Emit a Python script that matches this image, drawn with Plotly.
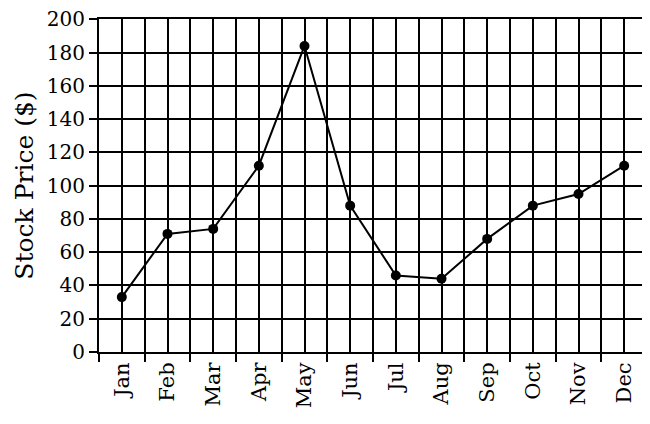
import plotly.graph_objects as go

months = ["Jan", "Feb", "Mar", "Apr", "May", "Jun",
          "Jul", "Aug", "Sep", "Oct", "Nov", "Dec"]
price = [33, 71, 74, 112, 184, 88, 46, 44, 68, 88, 95, 112]
y_ticks = list(range(0, 201, 20))

x_pos = list(range(len(months)))
# lines between the months (the right edge is drawn dotted separately)
between = [i - 0.5 for i in x_pos]

fig = go.Figure(
    go.Scatter(
        x=x_pos, y=price, mode="lines+markers",
        line=dict(color="black", width=2),
        marker=dict(color="black", size=10),
    )
)

font = dict(family="DejaVu Serif", size=21, color="black")

# page body adds an 8px offset, so the figure is sized to fit inside it
fig.update_layout(
    width=642, height=416,
    margin=dict(l=91, r=3, t=11, b=72),
    paper_bgcolor="white", plot_bgcolor="white",
    showlegend=False,
    font=font,
    xaxis=dict(
        range=[-0.5, 11.5], automargin=False,
        tickvals=x_pos, ticktext=months, tickangle=-90,
        ticks="", showgrid=True, gridcolor="black", gridwidth=2,
        minor=dict(tickvals=between, ticks="outside", ticklen=8,
                   tickwidth=2, tickcolor="black",
                   showgrid=True, gridcolor="black", gridwidth=2),
        showline=True, linecolor="black", linewidth=2, mirror=True,
        zeroline=False, tickfont=dict(size=21),
    ),
    yaxis=dict(
        range=[0, 200.2], automargin=False, tickvals=y_ticks,
        ticklabeloverflow="allow", tickfont=dict(size=20),
        ticks="outside", ticklen=8, tickwidth=2, tickcolor="black",
        showgrid=True, gridcolor="black", gridwidth=2,
        showline=True, linecolor="black", linewidth=2,
        zeroline=False,
        title=dict(text="Stock Price ($)", standoff=6, font=dict(size=25)),
    ),
)

# dotted right-hand edge as in the scan
fig.add_shape(type="line", xref="paper", yref="paper", x0=1, x1=1, y0=0, y1=1,
              line=dict(color="black", width=2, dash="dot"))

fig.write_html("out.html")
